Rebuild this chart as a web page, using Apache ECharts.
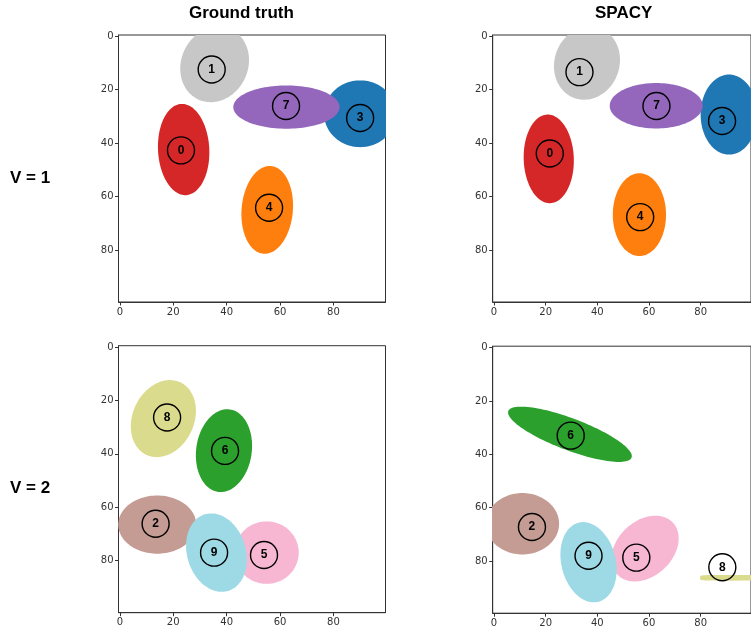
<!DOCTYPE html>
<html>
<head>
<meta charset="utf-8">
<script src="https://cdn.jsdelivr.net/npm/echarts@6/dist/echarts.min.js"></script>
<style>
html,body{margin:0;padding:0;background:#fff;}
#chart{width:751px;height:634px;}
</style>
</head>
<body>
<div id="chart"></div>
<script>
// ---- data ----
const columnTitles = ['Ground truth', 'SPACY'];
const rowTitles = ['V = 1', 'V = 2'];
const tickValues = [0, 20, 40, 60, 80];
const axisMin = -0.5;
const axisMax = 99.5;

// blobs: [id, centerX, centerY, semiAxisX, semiAxisY, rotationDeg, shapeExponent]
const gtV1Blobs = [
  [3, 90.0, 29.0, 13.5, 12.5, 0, 2],
  [7, 62.4, 26.5, 19.9, 8.1, 0, 2],
  [1, 35.5, 10.5, 12.5, 14.5, 25, 2],
  [0, 23.9, 42.4, 9.6, 17.1, -3, 2],
  [4, 55.2, 65.0, 9.6, 16.5, 5, 2]
];
const gtV1Labels = [[22.9, 42.7, 0], [34.4, 12.4, 1], [90.0, 30.6, 3], [55.9, 64.2, 4], [62.25, 26.1, 7]];

const spV1Blobs = [
  [3, 91.0, 29.3, 11.0, 15.0, 0, 2],
  [7, 62.8, 26.0, 18.0, 8.5, 0, 2],
  [1, 36.0, 10.0, 12.5, 14.0, 25, 2],
  [0, 21.2, 45.9, 9.7, 16.6, -2, 2],
  [4, 56.3, 66.8, 10.3, 15.5, 0, 2]
];
const spV1Labels = [[21.6, 43.9, 0], [33.1, 13.4, 1], [88.3, 31.7, 3], [56.6, 67.7, 4], [62.9, 26.1, 7]];

const gtV2Blobs = [
  [8, 16.3, 26.8, 11.5, 15.0, 25, 2],
  [6, 39.0, 38.8, 10.4, 15.6, 8, 2],
  [2, 14.0, 66.5, 14.6, 10.9, 0, 2],
  [5, 55.0, 77.0, 12.0, 11.7, 0, 2],
  [9, 36.2, 77.0, 11.0, 15.0, -17, 2]
];
const gtV2Labels = [[13.4, 66.2, 2], [54.0, 77.9, 5], [39.4, 38.9, 6], [17.7, 26.4, 8], [35.3, 77.0, 9]];

const spV2Blobs = [
  [6, 29.4, 32.5, 25.4, 6.0, 20, 2],
  [2, 11.0, 66.0, 14.2, 11.5, 0, 2],
  [5, 58.5, 75.3, 10.5, 14.5, 50, 2],
  [9, 36.6, 80.4, 10.5, 15.3, -15, 2],
  [8, 92.0, 86.25, 12.2, 1.05, 0, 6]
];
const spV2Labels = [[14.7, 67.2, 2], [55.1, 78.7, 5], [29.7, 33.0, 6], [88.4, 82.3, 8], [36.6, 78.0, 9]];

// ---- styles ----
const palette = ['#d62728', '#c7c7c7', '#c49c94', '#1f77b4', '#ff7f0e',
                 '#f7b6d2', '#2ca02c', '#9467bd', '#dbdb8d', '#9edae5'];
const panels = [
  {blobs: gtV1Blobs, labels: gtV1Labels, left: 118.5, top: 35},
  {blobs: spV1Blobs, labels: spV1Labels, left: 492.7, top: 35},
  {blobs: gtV2Blobs, labels: gtV2Labels, left: 118.5, top: 345.7},
  {blobs: spV2Blobs, labels: spV2Labels, left: 492.7, top: 346.2}
];
const panelSize = 267;
const axisColor = '#333';

function renderBlob(params, api) {
  const id = api.value(0), cx = api.value(1), cy = api.value(2);
  const rx = api.value(3), ry = api.value(4), a = api.value(5) * Math.PI / 180;
  const e = 2 / api.value(6);
  const pts = [];
  const n = 120;
  for (let i = 0; i < n; i++) {
    const t = i / n * Math.PI * 2;
    const c = Math.cos(t), s = Math.sin(t);
    const lx = rx * Math.sign(c) * Math.pow(Math.abs(c), e);
    const ly = ry * Math.sign(s) * Math.pow(Math.abs(s), e);
    pts.push(api.coord([cx + lx * Math.cos(a) - ly * Math.sin(a),
                        cy + lx * Math.sin(a) + ly * Math.cos(a)]));
  }
  return {type: 'polygon', shape: {points: pts}, style: {fill: palette[id]}};
}

const grids = [], xAxes = [], yAxes = [], series = [];
panels.forEach((p, i) => {
  grids.push({left: p.left, top: p.top, width: panelSize, height: panelSize,
    show: true, borderColor: axisColor, borderWidth: 1, backgroundColor: '#fff', containLabel: false});
  const common = {
    type: 'value', gridIndex: i, min: axisMin, max: axisMax,
    axisLine: {show: true, onZero: false, lineStyle: {color: axisColor, width: 1}},
    axisTick: {show: true, inside: false, length: 3.5, customValues: tickValues, lineStyle: {color: axisColor}},
    axisLabel: {show: true, customValues: tickValues, fontSize: 10, color: '#333', margin: 5, fontFamily: 'DejaVu Sans'},
    splitLine: {show: false}
  };
  xAxes.push(Object.assign({}, common, {position: 'bottom'}));
  yAxes.push(Object.assign({}, common, {position: 'left', inverse: true}));
  series.push({
    type: 'custom', xAxisIndex: i, yAxisIndex: i, clip: true,
    renderItem: renderBlob, data: p.blobs, silent: true, z: 2,
    dimensions: ['id', 'x', 'y', 'rx', 'ry', 'ang', 'exp'],
    encode: {x: 1, y: 2}
  });
  series.push({
    type: 'scatter', xAxisIndex: i, yAxisIndex: i, data: p.labels, z: 5,
    symbol: 'circle', symbolSize: 27, silent: true,
    itemStyle: {color: 'rgba(0,0,0,0)', borderColor: '#000', borderWidth: 1.4, opacity: 1},
    label: {show: true, position: 'inside', formatter: d => String(d.value[2]),
      fontWeight: 'bold', fontSize: 12, color: '#000', fontFamily: 'Liberation Sans'},
    emphasis: {disabled: true}
  });
});

const textStyleBase = {fontFamily: 'Liberation Sans', fontWeight: 'bold', fontSize: 17, fill: '#000'};
const graphics = [
  {type: 'text', left: 242 - 53, top: 5, style: Object.assign({text: columnTitles[0]}, textStyleBase)},
  {type: 'text', left: 624 - 29, top: 5, style: Object.assign({text: columnTitles[1]}, textStyleBase)},
  {type: 'text', left: 10, top: 170, style: Object.assign({text: rowTitles[0]}, textStyleBase)},
  {type: 'text', left: 10, top: 480, style: Object.assign({text: rowTitles[1]}, textStyleBase)}
];

const chart = echarts.init(document.getElementById('chart'), null, {renderer: 'canvas'});
chart.setOption({
  animation: false,
  backgroundColor: '#fff',
  grid: grids,
  xAxis: xAxes,
  yAxis: yAxes,
  series: series,
  graphic: graphics
});
</script>
</body>
</html>
